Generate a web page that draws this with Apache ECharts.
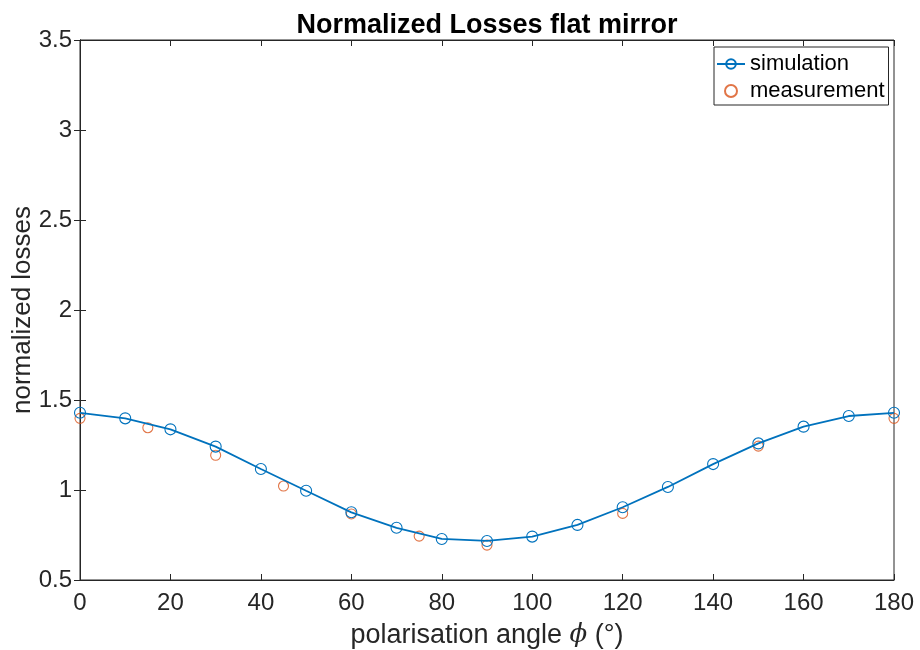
<!DOCTYPE html>
<html>
<head>
<meta charset="utf-8">
<script src="https://cdn.jsdelivr.net/npm/echarts@6/dist/echarts.min.js"></script>
<style>html,body{margin:0;padding:0;background:#fff}#c{width:920px;height:650px}</style>
</head>
<body>
<div id="c"></div>
<script>
const angles = [0,10,20,30,40,50,60,70,80,90,100,110,120,130,140,150,160,170,180];
const simulation = [1.429,1.398,1.337,1.241,1.117,0.996,0.876,0.790,0.728,0.717,0.741,0.806,0.904,1.017,1.144,1.259,1.352,1.411,1.429];
const measAngles = [0,15,30,45,60,75,90,120,150,180];
const measurement = [1.398,1.346,1.193,1.022,0.867,0.744,0.694,0.870,1.244,1.398];
const xTicks = {min:0, max:180, interval:20};
const yTicks = {min:0.5, max:3.5, interval:0.5};

const FONT = "'Liberation Sans', Arial, sans-serif";
const AX = '#262626';
const chart = echarts.init(document.getElementById('c'), null, {renderer:'canvas'});
const tickStyle = {show:true, inside:true, length:6, lineStyle:{color:AX, width:1}};
chart.setOption({
  animation:false,
  backgroundColor:'#fff',
  title:{text:'Normalized Losses flat mirror', left:482, top:7, textAlign:'center',
    textStyle:{fontFamily:FONT, fontSize:27, fontWeight:'bold', color:'#000'}},
  legend:{left:714, top:47, orient:'vertical', itemGap:5, itemWidth:28, itemHeight:12,
    padding:[6,4,3,2], borderColor:AX, borderWidth:1, backgroundColor:'#fff',
    textStyle:{fontFamily:FONT, fontSize:22, color:'#000'},
    data:['simulation','measurement']},
  grid:{left:80, right:26, top:40, bottom:70, show:true, borderColor:AX, borderWidth:1,
    backgroundColor:'transparent', containLabel:false, outerBoundsMode:'none'},
  xAxis:[{type:'value', min:xTicks.min, max:xTicks.max, interval:xTicks.interval, position:'bottom',
    axisLine:{show:true, lineStyle:{color:AX}}, axisTick:tickStyle, splitLine:{show:false},
    axisLabel:{fontFamily:FONT, fontSize:24, color:AX, margin:11},
    name:'{n|polarisation angle }{i|ϕ}{n| (°)}', nameLocation:'middle', nameGap:42, nameMoveOverlap:false,
    nameTextStyle:{rich:{n:{fontFamily:FONT, fontSize:27, color:AX}, i:{fontFamily:"'DejaVu Serif', serif", fontStyle:'italic', fontSize:26, color:AX}}}},
   {type:'value', min:xTicks.min, max:xTicks.max, interval:xTicks.interval, position:'top',
    axisLine:{show:true, lineStyle:{color:AX}}, axisTick:tickStyle, axisLabel:{show:false}, splitLine:{show:false}}],
  yAxis:[{type:'value', min:yTicks.min, max:yTicks.max, interval:yTicks.interval, position:'left',
    axisLine:{show:true, lineStyle:{color:AX}}, axisTick:tickStyle, splitLine:{show:false},
    axisLabel:{fontFamily:FONT, fontSize:24, color:AX, margin:8},
    name:'normalized losses', nameLocation:'middle', nameGap:44, nameRotate:90, nameMoveOverlap:false,
    nameTextStyle:{fontFamily:FONT, fontSize:26, color:AX}},
   {type:'value', min:yTicks.min, max:yTicks.max, interval:yTicks.interval, position:'right',
    axisLine:{show:true, lineStyle:{color:AX}}, axisTick:tickStyle, axisLabel:{show:false}, splitLine:{show:false}}],
  series:[
    {name:'simulation', type:'line', data:angles.map((a,i)=>[a, simulation[i]]),
     symbol:'circle', symbolSize:11, showAllSymbol:true,
     lineStyle:{color:'#0072BD', width:1.8},
     itemStyle:{color:'rgba(255,255,255,0)', borderColor:'#0072BD', borderWidth:1.1}},
    {name:'measurement', type:'scatter', data:measAngles.map((a,i)=>[a, measurement[i]]),
     symbol:'circle', symbolSize:10,
     itemStyle:{color:'rgba(255,255,255,0)', borderColor:'#D95319', borderWidth:1.1}}
  ]
});
</script>
</body>
</html>
